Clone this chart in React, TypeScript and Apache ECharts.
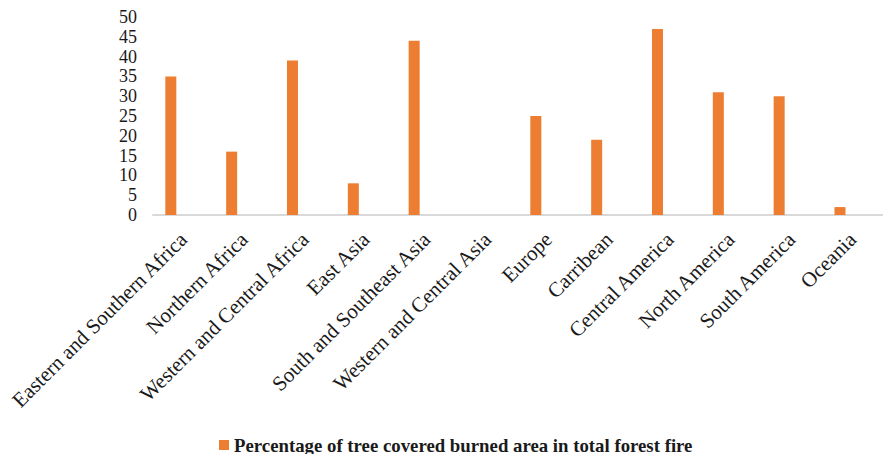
import React, { useEffect, useRef } from "react";
import * as echarts from "echarts";

const regions = [
  "Eastern and Southern Africa",
  "Northern Africa",
  "Western and Central Africa",
  "East Asia",
  "South and Southeast Asia",
  "Western and Central Asia",
  "Europe",
  "Carribean",
  "Central America",
  "North America",
  "South America",
  "Oceania",
];

const burnedShare = [35, 16, 39, 8, 44, 0, 25, 19, 47, 31, 30, 2];

const seriesName = "Percentage of tree covered burned area in total forest fire";

const FONT = "'Liberation Serif', 'Times New Roman', serif";

export default function App() {
  const ref = useRef<HTMLDivElement>(null);

  useEffect(() => {
    document.body.style.margin = "0";
    if (!ref.current) return;
    const chart = echarts.init(ref.current, undefined, { renderer: "svg" });
    chart.setOption({
      animation: false,
      backgroundColor: "#ffffff",
      grid: { left: 153, right: -4, top: 17, bottom: 239, containLabel: false },
      legend: {
        data: [seriesName],
        left: 219,
        top: 435,
        icon: "rect",
        itemWidth: 10,
        itemHeight: 10,
        padding: 0,
        textStyle: {
          fontFamily: FONT,
          fontWeight: "bold",
          fontSize: 18.8,
          lineHeight: 20,
          color: "#1a1a1a",
        },
      },
      xAxis: {
        type: "category",
        data: regions,
        axisLine: { show: true, lineStyle: { color: "#d9d9d9", width: 2 } },
        axisTick: { show: false },
        axisLabel: {
          interval: 0,
          rotate: 45,
          margin: 21,
          fontFamily: FONT,
          fontSize: 21,
          color: "#1a1a1a",
        },
      },
      yAxis: {
        type: "value",
        min: 0,
        max: 50,
        interval: 5,
        splitLine: { show: false },
        axisLine: { show: false },
        axisTick: { show: false },
        axisLabel: {
          margin: 16,
          fontFamily: FONT,
          fontSize: 18,
          color: "#1a1a1a",
        },
      },
      series: [
        {
          name: seriesName,
          type: "bar",
          data: burnedShare,
          barWidth: 11,
          barGap: "129%",
          itemStyle: { color: "#ED7D31" },
        },
        {
          // empty slot that keeps each bar left of its category centre
          name: "spacer",
          type: "bar",
          data: regions.map(() => null),
          barWidth: 11,
          itemStyle: { color: "transparent" },
        },
      ],
    });
    return () => chart.dispose();
  }, []);

  return <div ref={ref} style={{ width: 883, height: 454 }} />;
}
